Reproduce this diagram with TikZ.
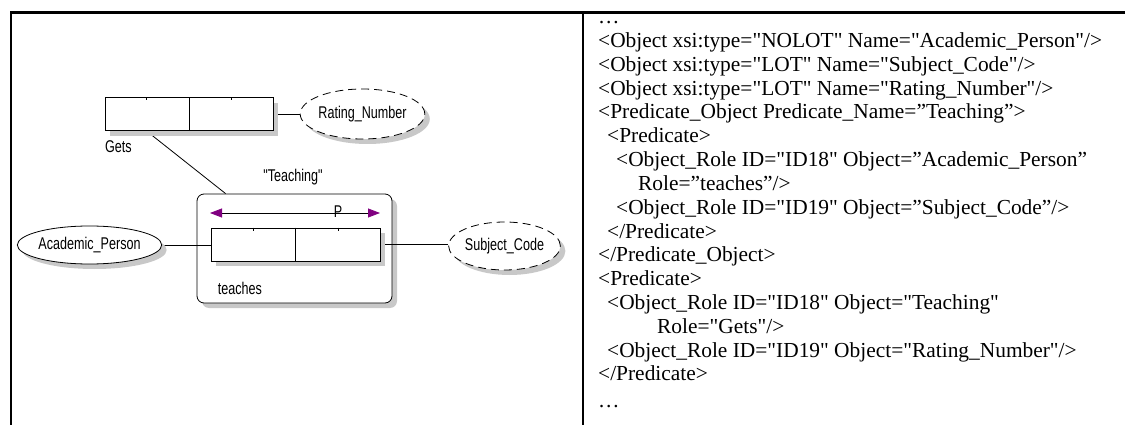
\documentclass[tikz,border=0pt]{standalone}
\usepackage{fontspec}
\usepackage{graphicx}
\setmainfont{Liberation Serif}
\newfontfamily\diafont{Liberation Sans}
\newfontfamily\xmlfont{Liberation Serif}
\usetikzlibrary{shapes.geometric,shadows,arrows.meta,calc}
\pgfdeclarelayer{bg}
\pgfdeclarelayer{conn}
\pgfsetlayers{bg,conn,main}
\definecolor{tippurple}{RGB}{128,0,128}
\definecolor{shadowgray}{RGB}{200,200,200}
\newcommand\nar[1]{\scalebox{0.74}[1]{#1}}
\begin{document}
\begin{tikzpicture}[x=1pt,y=-1pt,
  dia/.style={font=\diafont\fontsize{17}{19}\selectfont, inner sep=0pt},
  xml/.style={font=\xmlfont\fontsize{21.4}{24}\selectfont, inner sep=0pt, anchor=base west},
  shad/.style={drop shadow={shadow xshift=5pt,shadow yshift=-5pt,fill=shadowgray,opacity=1}},
  ftbox/.style={draw, fill=white, line width=0.8pt, minimum height=33pt, inner sep=0pt, shad},
  predbox/.style={draw, fill=white, line width=0.8pt, rounded corners=7pt, inner sep=0pt, shad},
  ell/.style={ellipse, draw, fill=white, line width=0.8pt, inner sep=0pt, shad, dia},
  valuetype/.style={dash pattern=on 8pt off 5pt},
  conline/.style={line width=0.8pt},
  frameline/.style={line width=2.4pt},
  uarrow/.style={<->, >={Triangle[length=12pt,width=9pt,color=tippurple]}}
]
\useasboundingbox (0,0) rectangle (1125,425);

% frame
\coordinate (fbl) at (11,425);
\coordinate (ftl) at (11,12.7);
\coordinate (ftr) at (1125,12.7);
\coordinate (dvt) at (583,12.7);
\coordinate (dvb) at (583,425);
\draw[frameline] (fbl) -- (ftl) -- (ftr);
\draw[frameline] (dvt) -- (dvb);

% predicate (objectified) box
\begin{pgfonlayer}{bg}
\node[predbox, minimum width=195pt, minimum height=109pt] (pred) at (294.5,248.5) {};
\end{pgfonlayer}

% fact type boxes
\node[ftbox, minimum width=168pt] (gets) at (189,114.3) {};
\node[ftbox, minimum width=169pt] (roles) at (295.5,244.5) {};
\draw[conline] (gets.north) -- (gets.south);
\draw[conline] (roles.north) -- (roles.south);
\draw[conline] ($(gets.north west)!0.25!(gets.north east)$) -- ++(0,3);
\draw[conline] ($(gets.north west)!0.75!(gets.north east)$) -- ++(0,3);
\draw[conline] ($(roles.north west)!0.25!(roles.north east)$) -- ++(0,3);
\draw[conline] ($(roles.north west)!0.75!(roles.north east)$) -- ++(0,3);

% object types
\node[ell, valuetype, minimum width=105pt, minimum height=50pt] (rating) at (362.5,114) {\nar{Rating\_Number}};
\node[ell, minimum width=125pt, minimum height=38pt] (acad) at (89.5,245) {\nar{Academic\_Person}};
\node[ell, valuetype, minimum width=97pt, minimum height=48pt] (subj) at (504.5,246) {\nar{Subject\_Code}};

% labels
\node[dia, anchor=west] (getslbl) at (105,147) {\nar{Gets}};
\node[dia] (teachinglbl) at (293,177) {\nar{"Teaching"}};
\node[dia] (teacheslbl) at (240,288) {\nar{teaches}};
\node[dia, anchor=base] (plbl) at (338,218) {\nar{P}};

% uniqueness arrow
\coordinate (pl) at (210,213);
\coordinate (pr) at (380,213);
\draw[conline, uarrow] (pl) -- (pr);

% connectors
\begin{pgfonlayer}{conn}
\draw[conline] (acad.east) -- (acad.east -| roles.west);
\draw[conline] (roles.east) -- (subj.west |- roles.east);
\draw[conline] (gets.east) -- (rating.west |- gets.east);
\draw[conline] ($(gets.south west)!0.25!(gets.south east)$) -- ($(pred.north west)+(29,0)$);
\end{pgfonlayer}

% XML text
\node[xml] (t0) at (598,24) {…};
\node[xml] (t1) at (598,47.6) {<Object xsi:type="NOLOT" Name="Academic\_Person"/>};
\node[xml] (t2) at (598,71.4) {<Object xsi:type="LOT" Name="Subject\_Code"/>};
\node[xml] (t3) at (598,95.2) {<Object xsi:type="LOT" Name="Rating\_Number"/>};
\node[xml] (t4) at (598,119) {<Predicate\_Object Predicate\_Name=”Teaching”>};
\node[xml] (t5) at (607,142.8) {<Predicate>};
\node[xml] (t6) at (616,166.6) {<Object\_Role ID="ID18" Object=”Academic\_Person”};
\node[xml] (t7) at (638,190.4) {Role=”teaches”/>};
\node[xml] (t8) at (616,214.2) {<Object\_Role ID="ID19" Object=”Subject\_Code”/>};
\node[xml] (t9) at (607,238) {</Predicate>};
\node[xml] (t10) at (598,261.8) {</Predicate\_Object>};
\node[xml] (t11) at (598,285.6) {<Predicate>};
\node[xml] (t12) at (607,309.4) {<Object\_Role ID="ID18" Object="Teaching"};
\node[xml] (t13) at (657,333.2) {Role="Gets"/>};
\node[xml] (t14) at (607,357) {<Object\_Role ID="ID19" Object="Rating\_Number"/>};
\node[xml] (t15) at (598,380.8) {</Predicate>};
\node[xml] (t16) at (598,407) {…};
\end{tikzpicture}
\end{document}
